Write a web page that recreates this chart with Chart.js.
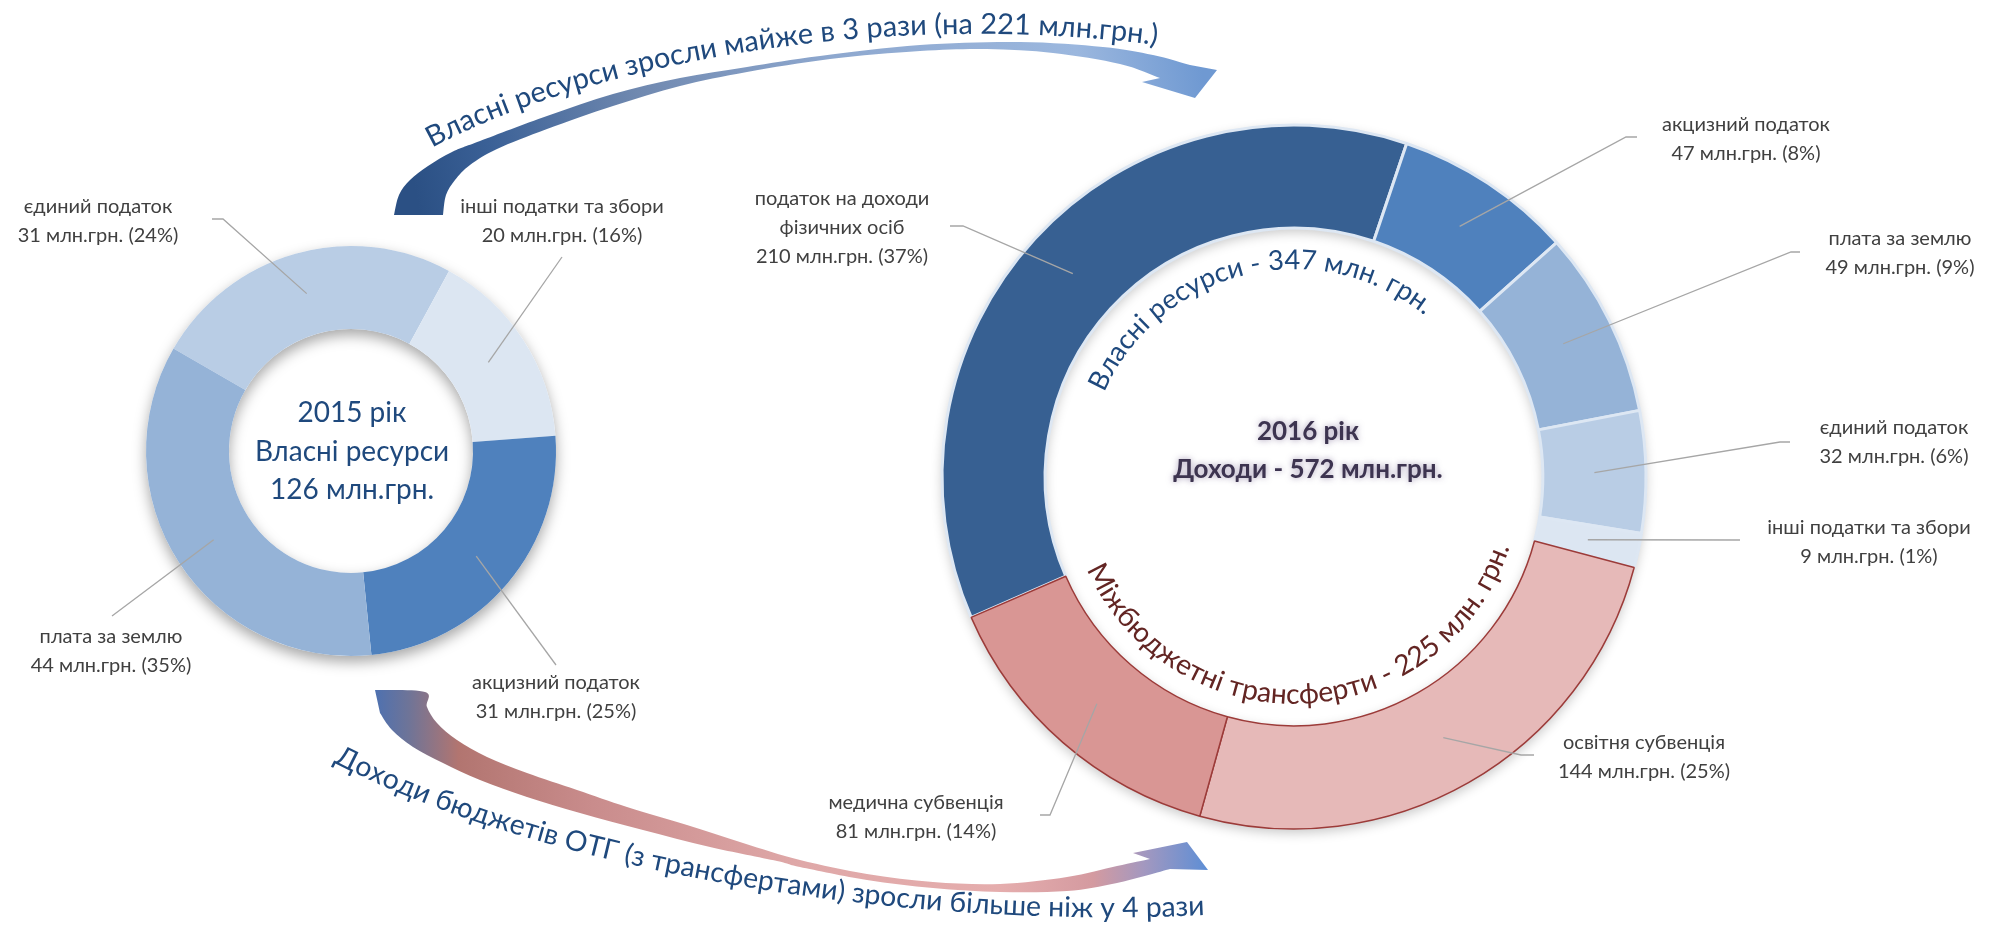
<!DOCTYPE html>
<html lang="uk">
<head>
<meta charset="utf-8">
<title>Доходи бюджетів ОТГ 2015–2016</title>
<script src="https://cdn.jsdelivr.net/npm/chart.js@4.4.1/dist/chart.umd.min.js"></script>
<style>
  html, body { margin: 0; padding: 0; background: #fff; }
  #wrap { position: relative; width: 1998px; height: 943px; overflow: hidden; }
  #wrap canvas { position: absolute; left: 0; top: 0; }
</style>
</head>
<body>
<div id="wrap">
  <canvas id="chart2015" width="1998" height="943"></canvas>
  <canvas id="chart2016" width="1998" height="943"></canvas>
</div>
<script>
// 2015 - own resources only
const cats2015 = ['єдиний податок', 'інші податки та збори', 'акцизний податок', 'плата за землю'];
const vals2015 = [31, 20, 31, 44];
const pct2015 = [24, 16, 25, 35];
const colors2015 = ['#b9cde5', '#dce6f2', '#4f81bd', '#95b3d7'];

// 2016 - own resources (first five) + transfers (last two)
const cats2016 = ['податок на доходи\nфізичних осіб', 'акцизний податок', 'плата за землю', 'єдиний податок',
  'інші податки та збори', 'освітня субвенція', 'медична субвенція'];
const vals2016 = [210, 47, 49, 32, 9, 144, 81];
const pct2016 = [37, 8, 9, 6, 1, 25, 14];
const colors2016 = ['#376092', '#4f81bd', '#95b3d7', '#b9cde5', '#dce6f2', '#e6b9b8', '#d99694'];
const isTransfer2016 = [false, false, false, false, false, true, true];

const sum = (a) => a.reduce((s, v) => s + v, 0);
const own2015 = sum(vals2015);
const own2016 = sum(vals2016.filter((v, i) => !isTransfer2016[i]));
const transfers2016 = sum(vals2016.filter((v, i) => isTransfer2016[i]));
const total2016 = sum(vals2016);

const FONT = "Lato, 'Noto Sans', sans-serif";
const LABEL_COLOR = '#404040';
const LEADER_COLOR = '#a6a6a6';

// where the callout texts sit (text centre x, first line y) and where their leader starts
const layout2015 = [
  { x: 98, y: 207, lead: [223, 219], tick: -11 },
  { x: 562, y: 207, lead: [562, 257] },
  { x: 556, y: 683, lead: [556, 665] },
  { x: 111, y: 637, lead: [112, 616] },
];
const layout2016 = [
  { x: 842, y: 199, lead: [963, 226], tick: -13 },
  { x: 1746, y: 125, lead: [1626, 137], tick: 11 },
  { x: 1900, y: 239, lead: [1791, 252], tick: 9 },
  { x: 1894, y: 428, lead: [1780, 442], tick: 10 },
  { x: 1869, y: 528, lead: [1740, 540] },
  { x: 1644, y: 743, lead: [1521, 755], tick: 13 },
  { x: 916, y: 803, lead: [1050, 815], tick: -10 },
];

// soft shadow under the ring (also gives the inner shadow in the hole)
const ringShadow = {
  id: 'ringShadow',
  beforeDatasetsDraw(chart, args, opts) {
    const arc = chart.getDatasetMeta(0).data[0];
    const ctx = chart.ctx;
    ctx.save();
    ctx.shadowColor = opts.color;
    ctx.shadowBlur = opts.blur;
    ctx.shadowOffsetY = opts.dy;
    ctx.beginPath();
    ctx.arc(arc.x, arc.y, arc.outerRadius, 0, Math.PI * 2);
    ctx.arc(arc.x, arc.y, arc.innerRadius, 0, Math.PI * 2, true);
    ctx.fillStyle = '#fff';
    ctx.fill();
    ctx.restore();
  }
};

// callouts with leader lines
const sliceLabels = {
  id: 'sliceLabels',
  afterDatasetsDraw(chart, args, opts) {
    const ctx = chart.ctx;
    const meta = chart.getDatasetMeta(0);
    const vals = chart.data.datasets[0].data;
    ctx.save();
    meta.data.forEach((arc, i) => {
      const c = arc.tooltipPosition();
      const L = opts.layout[i];
      ctx.strokeStyle = LEADER_COLOR;
      ctx.lineWidth = 1.3;
      ctx.beginPath();
      if (L.tick) {
        ctx.moveTo(L.lead[0] + L.tick, L.lead[1]);
        ctx.lineTo(L.lead[0], L.lead[1]);
      } else {
        ctx.moveTo(L.lead[0], L.lead[1]);
      }
      ctx.lineTo(c.x, c.y);
      ctx.stroke();

      const lines = chart.data.labels[i].split('\n');
      lines.push(vals[i] + ' млн.грн. (' + opts.pct[i] + '%)');
      ctx.fillStyle = LABEL_COLOR;
      ctx.font = '20px ' + FONT;
      ctx.textAlign = 'center';
      ctx.textBaseline = 'middle';
      lines.forEach((t, k) => ctx.fillText(t, L.x, L.y + k * 29));
    });
    ctx.restore();
  }
};

// text in the hole
const centreText = {
  id: 'centreText',
  afterDatasetsDraw(chart, args, opts) {
    const arc = chart.getDatasetMeta(0).data[0];
    const ctx = chart.ctx;
    ctx.save();
    ctx.textAlign = 'center';
    ctx.textBaseline = 'middle';
    ctx.fillStyle = opts.color;
    ctx.font = opts.font;
    if (opts.glow) {
      ctx.shadowColor = opts.glow;
      ctx.shadowBlur = 6;
    }
    opts.lines.forEach((t, k) => ctx.fillText(t, arc.x + opts.dx, arc.y + opts.dy[k]));
    ctx.restore();
  }
};

// draw a string char by char along a parametric path p(t), t in 0..1, fitted to its length
function pathText(ctx, text, p, color) {
  const N = 400;
  const pts = [];
  for (let i = 0; i <= N; i++) pts.push(p(i / N));
  const acc = [0];
  for (let i = 1; i <= N; i++) acc.push(acc[i - 1] + Math.hypot(pts[i].x - pts[i - 1].x, pts[i].y - pts[i - 1].y));
  const total = acc[N];
  const chars = Array.from(text);
  ctx.font = '20px ' + FONT;
  const base = sum(chars.map((ch) => ctx.measureText(ch).width));
  const size = 20 * total / base;
  ctx.font = size.toFixed(2) + 'px ' + FONT;
  const cw = chars.map((ch) => ctx.measureText(ch).width);
  let s = (total - sum(cw)) / 2;
  ctx.save();
  ctx.fillStyle = color;
  ctx.textAlign = 'center';
  ctx.textBaseline = 'alphabetic';
  chars.forEach((ch, k) => {
    const m = s + cw[k] / 2;
    let j = 1;
    while (j < N && acc[j] < m) j++;
    const f = (m - acc[j - 1]) / ((acc[j] - acc[j - 1]) || 1);
    const x = pts[j - 1].x + (pts[j].x - pts[j - 1].x) * f;
    const y = pts[j - 1].y + (pts[j].y - pts[j - 1].y) * f;
    const a = Math.atan2(pts[j].y - pts[j - 1].y, pts[j].x - pts[j - 1].x);
    ctx.save();
    ctx.translate(x, y);
    ctx.rotate(a);
    ctx.fillText(ch, 0, 0);
    ctx.restore();
    s += cw[k];
  });
  ctx.restore();
}

function cubic(p0, p1, p2, p3) {
  return (t) => {
    const u = 1 - t;
    return {
      x: u * u * u * p0[0] + 3 * u * u * t * p1[0] + 3 * u * t * t * p2[0] + t * t * t * p3[0],
      y: u * u * u * p0[1] + 3 * u * u * t * p1[1] + 3 * u * t * t * p2[1] + t * t * t * p3[1],
    };
  };
}

function circle(cx, cy, r, fromDeg, toDeg) {
  return (t) => {
    const a = (fromDeg + (toDeg - fromDeg) * t) * Math.PI / 180;
    return { x: cx + r * Math.sin(a), y: cy - r * Math.cos(a) };
  };
}

// smooth curve through points (catmull-rom)
function through(ctx, p) {
  ctx.lineTo(p[0][0], p[0][1]);
  for (let i = 0; i < p.length - 1; i++) {
    const a = p[i - 1] || p[i], b = p[i], c = p[i + 1], d = p[i + 2] || p[i + 1];
    ctx.bezierCurveTo(b[0] + (c[0] - a[0]) / 6, b[1] + (c[1] - a[1]) / 6,
      c[0] - (d[0] - b[0]) / 6, c[1] - (d[1] - b[1]) / 6, c[0], c[1]);
  }
}

function arrow(ctx, sideA, head, sideB, grad) {
  ctx.beginPath();
  ctx.moveTo(sideA[0][0], sideA[0][1]);
  through(ctx, sideA);
  head.forEach((q) => ctx.lineTo(q[0], q[1]));
  through(ctx, sideB);
  ctx.closePath();
  ctx.fillStyle = grad;
  ctx.fill();
}

// arrows, curved captions and ring captions
const decor = {
  id: 'decor',
  afterDraw(chart) {
    const ctx = chart.ctx;
    const arc = chart.getDatasetMeta(0).data[0];

    // top arrow (own resources growth)
    let g = ctx.createLinearGradient(420, 214, 1200, 60);
    g.addColorStop(0, '#2b5084');
    g.addColorStop(0.1, '#3a6096');
    g.addColorStop(0.3, '#7089b0');
    g.addColorStop(0.55, '#8ea8cf');
    g.addColorStop(0.85, '#9bb7de');
    g.addColorStop(1, '#6f99d2');
    arrow(ctx,
      [[394, 215], [399, 195], [410, 180], [428, 166], [452, 152], [480, 141], [547, 116], [613, 94], [680, 78], [747, 67], [820, 56], [920, 45], [1020, 42], [1103, 47], [1153, 55], [1190, 65]],
      [[1217, 70], [1195, 98], [1142, 82]],
      [[1160, 78], [1120, 64], [1053, 53], [987, 49], [920, 51], [830, 59], [747, 72], [680, 86], [613, 106], [547, 129], [497, 149], [470, 165], [455, 180], [446, 195], [443, 215]],
      g);

    // bottom arrow (total revenue growth)
    g = ctx.createLinearGradient(375, 0, 1210, 0);
    g.addColorStop(0, '#4e71b0');
    g.addColorStop(0.04, '#6e7498');
    g.addColorStop(0.1, '#b27570');
    g.addColorStop(0.26, '#c98c8c');
    g.addColorStop(0.51, '#dfa8a8');
    g.addColorStop(0.75, '#e5adad');
    g.addColorStop(0.86, '#d49aa0');
    g.addColorStop(0.92, '#a498bf');
    g.addColorStop(1, '#5b8ed6');
    arrow(ctx,
      [[375, 690], [425, 692], [427, 707], [437, 723], [457, 740], [487, 757], [527, 773], [577, 790], [627, 807], [687, 825], [743, 843], [800, 860], [867, 874], [933, 882], [1000, 884], [1067, 877], [1117, 866], [1150, 859]],
      [[1133, 853], [1187, 842], [1208, 870]],
      [[1170, 869], [1117, 883], [1067, 891], [1000, 892], [933, 888], [867, 880], [800, 867], [777, 861], [710, 847], [643, 830], [580, 813], [527, 797], [480, 780], [443, 763], [413, 747], [392, 730], [380, 713]],
      g);

    pathText(ctx, 'Власні ресурси зросли майже в 3 рази (на ' + (own2016 - own2015) + ' млн.грн.)',
      cubic([432, 148], [555, 80], [840, 5], [1157, 45]), '#1f497d');
    pathText(ctx, 'Доходи бюджетів ОТГ (з трансфертами) зросли більше ніж у 4 рази',
      cubic([333, 762], [540, 870], [900, 930], [1205, 915]), '#1f497d');

    // captions inside the 2016 ring
    pathText(ctx, 'Власні ресурси - ' + own2016 + ' млн. грн.',
      circle(arc.x, arc.y, arc.innerRadius - 41, -66, 39), '#1f497d');
    pathText(ctx, 'Міжбюджетні трансферти - ' + transfers2016 + ' млн. грн.',
      circle(arc.x, arc.y, arc.innerRadius - 22, 246, 108), '#632523');
  }
};

const common = {
  responsive: false,
  animation: false,
  events: [],
};

new Chart(document.getElementById('chart2015'), {
  type: 'doughnut',
  data: {
    labels: cats2015,
    datasets: [{ data: vals2015, backgroundColor: colors2015, borderWidth: 0 }]
  },
  options: {
    ...common,
    rotation: -60,
    radius: 205,
    cutout: '59.5%',
    layout: { padding: { left: 101, right: 1397, top: 201, bottom: 242 } },
    plugins: {
      legend: { display: false },
      tooltip: { enabled: false },
      ringShadow: { color: 'rgba(0,0,0,0.35)', blur: 14, dy: 6 },
      sliceLabels: { layout: layout2015, pct: pct2015 },
      centreText: {
        lines: ['2015 рік', 'Власні ресурси', own2015 + ' млн.грн.'],
        dx: 1, dy: [-38, 1, 39], color: '#1f497d', font: '28px ' + FONT
      }
    }
  },
  plugins: [ringShadow, sliceLabels, centreText]
});

new Chart(document.getElementById('chart2016'), {
  type: 'doughnut',
  data: {
    labels: cats2016,
    datasets: [{
      data: vals2016,
      backgroundColor: colors2016,
      borderColor: isTransfer2016.map((t) => (t ? '#9c3b39' : '#dde7f3')),
      borderWidth: isTransfer2016.map((t) => (t ? 1.5 : 3))
    }]
  },
  options: {
    ...common,
    rotation: -113.5,
    radius: 352,
    cutout: '70.7%',
    layout: { padding: { left: 934, right: 344, top: 117, bottom: 106 } },
    plugins: {
      legend: { display: false },
      tooltip: { enabled: false },
      ringShadow: { color: 'rgba(0,0,0,0.22)', blur: 12, dy: 4 },
      sliceLabels: { layout: layout2016, pct: pct2016 },
      centreText: {
        lines: ['2016 рік', 'Доходи - ' + total2016 + ' млн.грн.'],
        dx: 14, dy: [-45, -7], color: '#3d3450', font: 'bold 26px ' + FONT,
        glow: 'rgba(90,70,120,0.55)'
      }
    }
  },
  plugins: [ringShadow, sliceLabels, centreText, decor]
});
</script>
</body>
</html>
